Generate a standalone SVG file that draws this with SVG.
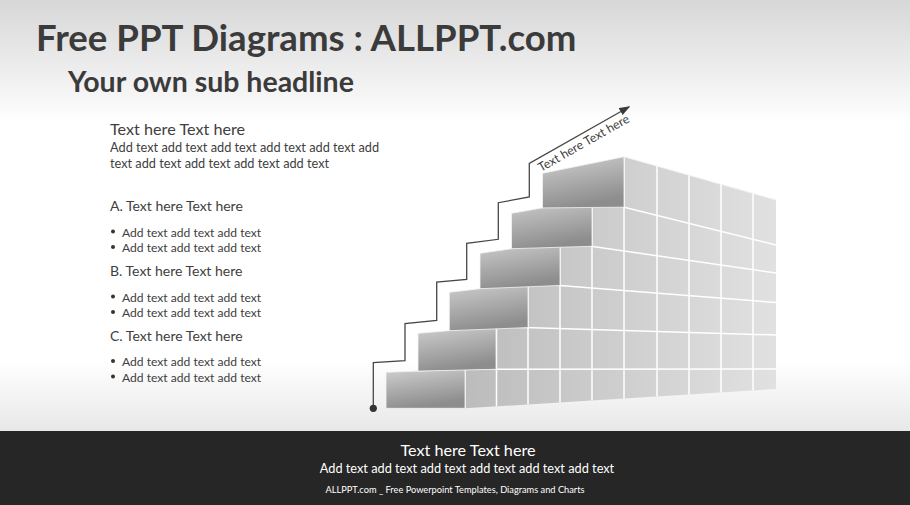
<svg xmlns="http://www.w3.org/2000/svg" width="910" height="505" viewBox="0 0 910 505">
<defs>
<style>
.t{font-family:Lato,"Liberation Sans",sans-serif;fill:#404040}
.b{font-weight:bold;fill:#3b3b3b}
.w{fill:#ffffff;font-family:Lato,"Liberation Sans",sans-serif}
.front{fill:url(#frontGrad);stroke:#f4f4f4;stroke-width:0.8}
.grid{stroke:#ffffff;stroke-width:1.5;fill:none}
.conn{fill:none;stroke:#474747;stroke-width:1.3;stroke-linejoin:miter}
</style>
<linearGradient id="bgTop" x1="0" y1="0" x2="0" y2="1">
<stop offset="0" stop-color="#d7d7d7"/>
<stop offset="0.8" stop-color="#f6f6f6"/>
<stop offset="1" stop-color="#ffffff"/>
</linearGradient>
<linearGradient id="bgBot" x1="0" y1="0" x2="0" y2="1">
<stop offset="0" stop-color="#ffffff"/>
<stop offset="1" stop-color="#e8e8e8"/>
</linearGradient>
<linearGradient id="frontGrad" x1="0" y1="0" x2="0.3" y2="1">
<stop offset="0" stop-color="#cfcfcf"/>
<stop offset="1" stop-color="#8d8d8d"/>
</linearGradient>
<linearGradient id="wallGrad" gradientUnits="userSpaceOnUse" x1="465" y1="0" x2="776" y2="0">
<stop offset="0" stop-color="#bcbcbc"/>
<stop offset="1" stop-color="#e1e1e1"/>
</linearGradient>
<marker id="arrow" markerUnits="userSpaceOnUse" markerWidth="11" markerHeight="8" refX="10" refY="4" orient="auto">
<path d="M0,0 L11,4 L0,8 z" fill="#3a3a3a"/>
</marker>
</defs>

<g id="background">
<rect x="0" y="0" width="910" height="505" fill="#ffffff"/>
<rect x="0" y="0" width="910" height="122" fill="url(#bgTop)"/>
<rect x="0" y="360" width="910" height="71" fill="url(#bgBot)"/>
<rect x="0" y="431" width="910" height="74" fill="#262626"/>
</g>

<g id="title">
<text class="t b" x="36" y="51" font-size="36.6">Free PPT Diagrams : ALLPPT.com</text>
</g>
<g id="subtitle">
<text class="t b" x="68" y="92" font-size="28.5">Your own sub headline</text>
</g>

<g id="text-block">
<text class="t" x="110" y="135" font-size="16.2">Text here Text here</text>
<text class="t" x="110" y="152.3" font-size="12.75">Add text add text add text add text add text add</text>
<text class="t" x="110" y="168.3" font-size="12.75">text add text add text add text add text</text>
</g>
<g id="item-a">
<text class="t" x="110" y="211" font-size="14">A. Text here Text here</text>
<circle cx="113" cy="231.5" r="2" fill="#333"/>
<circle cx="113" cy="247" r="2" fill="#333"/>
<text class="t" x="122" y="236.7" font-size="12.1">Add text add text add text</text>
<text class="t" x="122" y="252.3" font-size="12.1">Add text add text add text</text>
</g>
<g id="item-b">
<text class="t" x="110" y="275.7" font-size="14">B. Text here Text here</text>
<circle cx="113" cy="296.5" r="2" fill="#333"/>
<circle cx="113" cy="312" r="2" fill="#333"/>
<text class="t" x="122" y="301.7" font-size="12.1">Add text add text add text</text>
<text class="t" x="122" y="317.3" font-size="12.1">Add text add text add text</text>
</g>
<g id="item-c">
<text class="t" x="110" y="340.7" font-size="14">C. Text here Text here</text>
<circle cx="113" cy="361" r="2" fill="#333"/>
<circle cx="113" cy="376.5" r="2" fill="#333"/>
<text class="t" x="122" y="366" font-size="12.1">Add text add text add text</text>
<text class="t" x="122" y="381.7" font-size="12.1">Add text add text add text</text>
</g>

<g id="wall">
<polygon fill="url(#wallGrad)" points="465,408.3 776,389 776,200 624,156.7 624,207.2 592,199.3 592,246.3 560,241.7 560,285.5 528,283 528,327.6 496,326.7 496,369.3 465,369.3"/>
<g class="grid">
<line x1="465" y1="369.3" x2="776" y2="369"/>
<line x1="496" y1="326.7" x2="776" y2="335"/>
<line x1="528" y1="283" x2="776" y2="302.5"/>
<line x1="560" y1="241.7" x2="776" y2="273"/>
<line x1="592" y1="199.3" x2="776" y2="245"/>
<line x1="624" y1="156.7" x2="776" y2="200" stroke="#f2f2f2" stroke-width="1"/>
<line x1="465" y1="408.3" x2="465" y2="369.3"/>
<line x1="496.5" y1="406.4" x2="496.5" y2="326.7"/>
<line x1="528" y1="404.4" x2="528" y2="283"/>
<line x1="560" y1="402.4" x2="560" y2="241.7"/>
<line x1="592" y1="400.4" x2="592" y2="199.3"/>
<line x1="624" y1="398.4" x2="624" y2="156.7"/>
<line x1="657" y1="396.4" x2="657" y2="166.1"/>
<line x1="689" y1="394.4" x2="689" y2="175.2"/>
<line x1="721" y1="392.4" x2="721" y2="184.3"/>
<line x1="753" y1="390.3" x2="753" y2="193.5"/>
</g>
</g>

<g id="step-1"><polygon class="front" points="386,372.3 465,369.3 465,408.3 386,408.3"/></g>
<g id="step-2"><polygon class="front" points="418,333.3 496,326.7 496,369.3 418,371.1"/></g>
<g id="step-3"><polygon class="front" points="449.3,292.3 528,283 528,327.6 449.3,330.7"/></g>
<g id="step-4"><polygon class="front" points="480,253.3 560,241.7 560,285.5 480,288.7"/></g>
<g id="step-5"><polygon class="front" points="511.5,213.3 592,199.3 592,246.3 511.5,248.7"/></g>
<g id="step-6"><polygon class="front" points="542.5,173.3 624,156.7 624,207.2 542.5,207.9"/></g>

<g id="connectors">
<polyline class="conn" marker-end="url(#arrow)" points="373.3,408.3 373.3,362.7 405,360.7 405,323.5 436.7,320.5 436.7,282 466.7,279.3 466.7,243.3 498.3,239.3 498.3,202.7 529.3,197 529.3,163.5 629.3,106.7"/>
<circle cx="373.3" cy="408.3" r="3.6" fill="#333"/>
</g>
<g id="arrow-label">
<text class="t" font-size="12.3" transform="translate(541,172) rotate(-29.5)">Text here Text here</text>
</g>

<g id="footer">
<text class="w" x="468" y="455.5" font-size="16.2" text-anchor="middle">Text here Text here</text>
<text class="w" x="467" y="473" font-size="12.75" text-anchor="middle">Add text add text add text add text add text add text</text>
<text class="w" x="455" y="493" font-size="9.25" text-anchor="middle">ALLPPT.com _ Free Powerpoint Templates, Diagrams and Charts</text>
</g>
</svg>
